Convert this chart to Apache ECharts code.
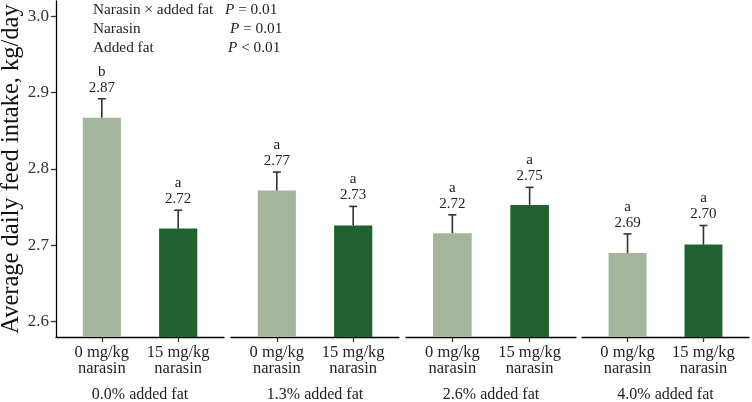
<!DOCTYPE html>
<html>
<head>
<meta charset="utf-8">
<script src="https://cdn.jsdelivr.net/npm/echarts@6/dist/echarts.min.js"></script>
<style>
  html, body { margin: 0; padding: 0; background: #fff; }
  #chart { width: 752px; height: 402px; }
</style>
</head>
<body>
<div id="chart"></div>
<script>
// Data
var fatLevels = ["0.0% added fat", "1.3% added fat", "2.6% added fat", "4.0% added fat"];
var narasinLevels = ["0 mg/kg\nnarasin", "15 mg/kg\nnarasin"];
var intake0 = [2.867, 2.772, 2.716, 2.690];   // 0 mg/kg narasin
var intake15 = [2.722, 2.726, 2.753, 2.701];  // 15 mg/kg narasin
var se0 = [0.025, 0.024, 0.024, 0.025];
var se15 = [0.024, 0.025, 0.023, 0.025];
var letters0 = ["b", "a", "a", "a"];
var letters15 = ["a", "a", "a", "a"];
var yTicks = [2.6, 2.7, 2.8, 2.9, 3.0];
var effectNames = ["Narasin \u00d7 added fat", "Narasin", "Added fat"];
var pValues = ["= 0.01", "= 0.01", "< 0.01"];

var lightColor = "#a3b69c";
var darkColor = "#1f6131";
var serif = "Liberation Serif";

// facet panels (left, right) in px
var panels = [[56, 224], [231, 399], [406, 576], [582, 749]];

var chart = echarts.init(document.getElementById("chart"));

function errorRender(i) {
  var letters = [letters0[i], letters15[i]];
  return function (params, api) {
    var x = api.value(0), m = api.value(1), h = api.value(2);
    var p0 = api.coord([x, m]);
    var p1 = api.coord([x, h]);
    return {
      type: "group",
      children: [
        { type: "line", shape: { x1: p0[0], y1: p0[1], x2: p1[0], y2: p1[1] },
          style: { stroke: "#333", lineWidth: 1.6 } },
        { type: "line", shape: { x1: p1[0] - 4, y1: p1[1], x2: p1[0] + 4, y2: p1[1] },
          style: { stroke: "#333", lineWidth: 1.6 } },
        { type: "text", x: p1[0], y: p1[1] - 3,
          style: { text: letters[params.dataIndex] + "\n" + m.toFixed(2),
                   align: "center", verticalAlign: "bottom",
                   fontSize: 15, lineHeight: 16, fontFamily: serif, fill: "#222" } }
      ]
    };
  };
}

var grids = [], xAxes = [], yAxes = [], series = [];
panels.forEach(function (p, i) {
  var w = p[1] - p[0];
  grids.push({ left: p[0], top: 1, width: w, height: 336, outerBoundsMode: "none", containLabel: false });
  xAxes.push({
    type: "value", gridIndex: i, min: 0.4, max: 2.6,
    name: fatLevels[i], nameLocation: "middle", nameGap: 50,
    nameTextStyle: { fontFamily: serif, fontSize: 16, color: "#222" },
    axisLine: { lineStyle: { color: "#000", width: 1.3 } },
    axisTick: { customValues: [1, 2], length: 5, lineStyle: { color: "#333", width: 1.3 } },
    axisLabel: {
      customValues: [1, 2], margin: 7,
      fontFamily: serif, fontSize: 16.5, lineHeight: 16.5, color: "#222",
      formatter: function (v) { return narasinLevels[Math.round(v) - 1]; }
    },
    splitLine: { show: false }
  });
  yAxes.push({
    type: "value", gridIndex: i, min: 2.58, max: 3.02, show: i === 0,
    name: i === 0 ? "Average daily feed intake, kg/day" : "",
    nameLocation: "middle", nameGap: 30,
    nameTextStyle: { fontFamily: serif, fontSize: 24.5, color: "#111" },
    axisLine: { show: true, lineStyle: { color: "#000", width: 1.3 } },
    axisTick: { show: true, customValues: yTicks, length: 5, lineStyle: { color: "#333", width: 1.3 } },
    axisLabel: {
      customValues: yTicks, margin: 7,
      fontFamily: serif, fontSize: 17, color: "#333",
      formatter: function (v) { return v.toFixed(1); }
    },
    splitLine: { show: false }
  });
  series.push({
    type: "bar", xAxisIndex: i, yAxisIndex: i,
    barWidth: w / 4.4,
    data: [
      { value: [1, intake0[i]], itemStyle: { color: lightColor } },
      { value: [2, intake15[i]], itemStyle: { color: darkColor } }
    ]
  });
  series.push({
    type: "custom", xAxisIndex: i, yAxisIndex: i,
    renderItem: errorRender(i),
    data: [
      [1, intake0[i], intake0[i] + se0[i]],
      [2, intake15[i], intake15[i] + se15[i]]
    ],
    z: 3
  });
});

// effect P values annotation
var graphics = [];
effectNames.forEach(function (name, k) {
  graphics.push({
    type: "text", x: 93, y: 10 + k * 19,
    style: { text: name, fontFamily: serif, fontSize: 15.3, fill: "#222", verticalAlign: "middle" }
  });
  graphics.push({
    type: "text", x: [225, 230, 228][k], y: 10 + k * 19,
    style: {
      text: "{i|P} " + pValues[k], fontFamily: serif, fontSize: 15.3, fill: "#222", verticalAlign: "middle",
      rich: { i: { fontStyle: "italic", fontFamily: serif, fontSize: 15.3, fill: "#222" } }
    }
  });
});

var option = {
  backgroundColor: "#fff",
  animation: false,
  grid: grids,
  xAxis: xAxes,
  yAxis: yAxes,
  series: series,
  graphic: graphics
};

chart.setOption(option);
</script>
</body>
</html>
